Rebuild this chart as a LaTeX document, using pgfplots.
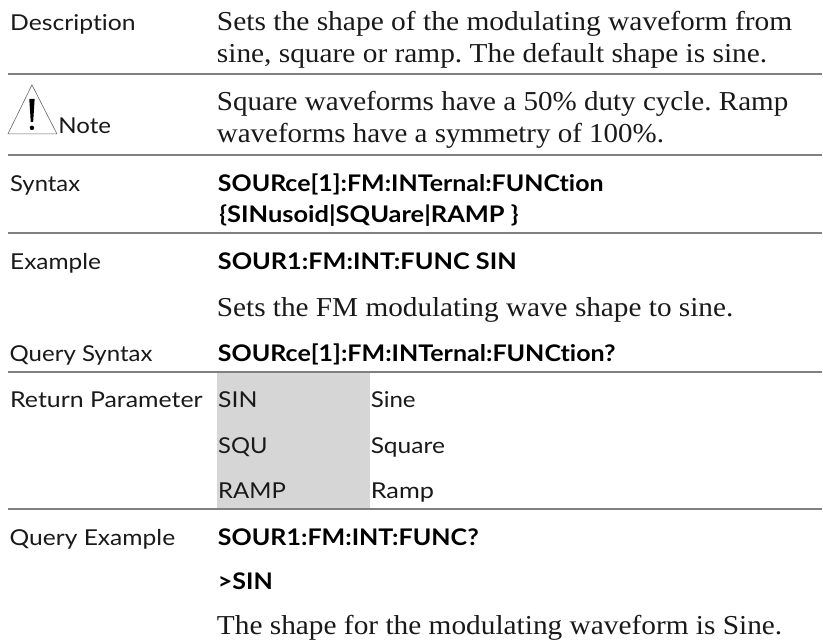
\documentclass[border=0pt]{standalone}
\usepackage{pgfplots}
\pgfplotsset{compat=1.18}
\usepackage{fontspec}
\usepackage{graphicx}
\frenchspacing
\setmainfont{Liberation Serif}
\newfontfamily\bodyf[FakeStretch=1.08]{Liberation Serif}
\newfontfamily\sansf[FakeStretch=1.08,Ligatures=NoCommon]{Lato}
\newcommand{\lab}[4]{\node[anchor=base west,inner sep=0pt,font=\fontsize{22}{24}\selectfont\sansf,text=black!90] at (axis cs:#1,#2) {\resizebox{#4bp}{\height}{#3}};}
\newcommand{\bod}[4]{\node[anchor=base west,inner sep=0pt,font=\fontsize{27.5}{28}\selectfont\bodyf,text=black!90] at (axis cs:#1,#2) {\resizebox{#4bp}{\height}{#3}};}
\newcommand{\cmd}[4]{\node[anchor=base west,inner sep=0pt,font=\fontsize{23}{24}\selectfont\sansf\bfseries,text=black] at (axis cs:#1,#2) {\resizebox{#4bp}{\height}{#3}};}
\begin{document}
\begin{tikzpicture}
\begin{axis}[hide axis,scale only axis,width=823bp,height=639bp,xmin=0,xmax=823,ymin=0,ymax=639,y dir=reverse,clip=false]
\addplot[draw=none,fill=white,forget plot] coordinates {(0,0) (823,0) (823,639) (0,639)} --cycle;
\addplot[draw=none,fill=black!16,forget plot] coordinates {(217,373) (370,373) (370,509.7) (217,509.7)} --cycle;
\addplot[black!50,line width=2bp,forget plot] coordinates {(8,74) (823,74)};
\addplot[black!50,line width=2bp,forget plot] coordinates {(8,155) (823,155)};
\addplot[black!50,line width=2bp,forget plot] coordinates {(8,233.7) (823,233.7)};
\addplot[black!50,line width=2bp,forget plot] coordinates {(8,372.7) (823,372.7)};
\addplot[black!50,line width=2bp,forget plot] coordinates {(8,509.7) (823,509.7)};
\addplot[black!60,line width=0.6bp,forget plot] coordinates {(8,134) (32,85) (57,134) (8,134)};
\addplot[draw=none,fill=black,forget plot] coordinates {(29.3,99) (34.7,99) (33.2,122) (30.8,122)} --cycle;
\addplot[black,only marks,mark=*,mark size=2bp,forget plot] coordinates {(32,128)};
\lab{10}{30.5}{Description}{125.5}
\bod{217}{30.5}{Sets the shape of the modulating waveform from}{576}
\bod{217}{62.5}{sine, square or ramp. The default shape is sine.}{551}
\lab{58.3}{134}{Note}{52.7}
\bod{217}{111}{Square waveforms have a 50\% duty cycle. Ramp}{572}
\bod{217}{143}{waveforms have a symmetry of 100\%.}{447.6}
\lab{10}{191.5}{Syntax}{70}
\cmd{218}{191.5}{SOURce[1]:FM:INTernal:FUNCtion}{386}
\cmd{219.5}{223}{\{SINusoid|SQUare|RAMP \}}{299.5}
\lab{10}{270}{Example}{91}
\cmd{218}{270}{SOUR1:FM:INT:FUNC SIN}{299}
\bod{217}{316.5}{Sets the FM modulating wave shape to sine.}{517}
\lab{9.5}{361.5}{Query Syntax}{143}
\cmd{218}{361.5}{SOURce[1]:FM:INTernal:FUNCtion?}{398}
\lab{10}{408}{Return Parameter}{192.7}
\lab{218.3}{408}{SIN}{39.4}\lab{371}{408}{Sine}{45}
\lab{218.3}{454}{SQU}{49.4}\lab{371}{454}{Square}{74.3}
\lab{218.3}{499}{RAMP}{67.7}\lab{371}{499}{Ramp}{63.3}
\lab{9.5}{546.5}{Query Example}{165.7}
\cmd{218}{546.5}{SOUR1:FM:INT:FUNC?}{261}
\cmd{218}{590}{>SIN}{55}
\bod{217}{635}{The shape for the modulating waveform is Sine.}{566}
\end{axis}
\end{tikzpicture}
\end{document}
